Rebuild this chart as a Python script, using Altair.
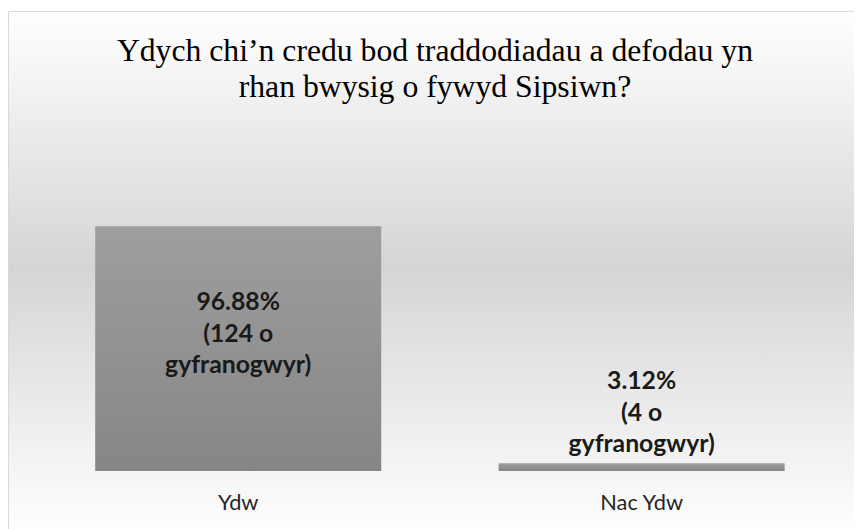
import altair as alt
import pandas as pd

# ---- data ----
categories = ["Ydw", "Nac Ydw"]
percent = [96.88, 3.12]
respondents = [124, 4]
title_lines = ["Ydych chi\u2019n credu bod traddodiadau a defodau yn",
               "rhan bwysig o fywyd Sipsiwn?"]

df = pd.DataFrame({"cat": categories, "value": percent, "n": respondents})
df["label"] = [f"{v:.2f}%\n({n} o\ngyfranogwyr)" for v, n in zip(percent, respondents)]

W, H = 854, 255
PAD_TOP, PAD_BOTTOM = 210, 56

x_scale = alt.Scale(paddingInner=0.291, paddingOuter=0.194, align=0.557)
x_enc = alt.X("cat:N", sort=categories, scale=x_scale,
              axis=alt.Axis(title=None, domain=False, ticks=False, zindex=1,
                            labelPadding=39, labelBaseline="alphabetic",
                            labelFont="Lato", labelFontSize=22,
                            labelColor="#262626", labelAngle=0))
y_enc = alt.Y("value:Q", scale=alt.Scale(domain=[0, 100]), axis=None)

base = alt.Chart(df)

# background panel: soft vertical gradient with a thin border
bg = alt.Chart(pd.DataFrame({"k": [0]})).mark_rect(
    fill=alt.Gradient(gradient="linear", x1=0, y1=0, x2=0, y2=1,
                      stops=[alt.GradientStop(offset=0, color="#ffffff"),
                             alt.GradientStop(offset=0.488, color="#d5d5d5"),
                             alt.GradientStop(offset=1, color="#ffffff")]),
    stroke="#d9d9d9", strokeWidth=1,
).encode(x=alt.value(0.5), x2=alt.value(W + 20),
         y=alt.value(-PAD_TOP + 1), y2=alt.value(H + PAD_BOTTOM + 10))

# title drawn as a two-line text block
title = alt.Chart(pd.DataFrame({"t": ["\n".join(title_lines)]})).mark_text(
    lineBreak="\n", lineHeight=36, font="Liberation Serif", fontSize=32,
    color="#000000", align="center", baseline="top",
).encode(text="t:N", x=alt.value(W / 2 + 4), y=alt.value(-184))

bars = base.mark_bar(
    fill=alt.Gradient(gradient="linear", x1=0, y1=0, x2=0, y2=1,
                      stops=[alt.GradientStop(offset=0, color="#9e9e9e"),
                             alt.GradientStop(offset=1, color="#868686")]),
).encode(x=x_enc, y=y_enc)

label_style = dict(lineBreak="\n", lineHeight=32, font="Lato", fontSize=25,
                   fontWeight="bold", color="#1a1a1a", align="center",
                   baseline="middle")

inside = base.transform_filter("datum.value >= 50").transform_calculate(
    mid="datum.value / 2").mark_text(dy=-47, **label_style).encode(
    x=alt.X("cat:N", sort=categories), y=alt.Y("mid:Q"), text="label:N")

outside = base.transform_filter("datum.value < 50").mark_text(
    dy=-83, **label_style).encode(
    x=alt.X("cat:N", sort=categories), y=alt.Y("value:Q"), text="label:N")

chart = alt.layer(bg, bars, inside, outside, title).properties(
    width=W, height=H,
    autosize=alt.AutoSizeParams(type="none"),
    padding={"left": 0, "top": PAD_TOP, "right": 0, "bottom": PAD_BOTTOM},
).configure_view(strokeWidth=0)

chart.save("out.html", embed_options={"renderer": "svg", "actions": False})
